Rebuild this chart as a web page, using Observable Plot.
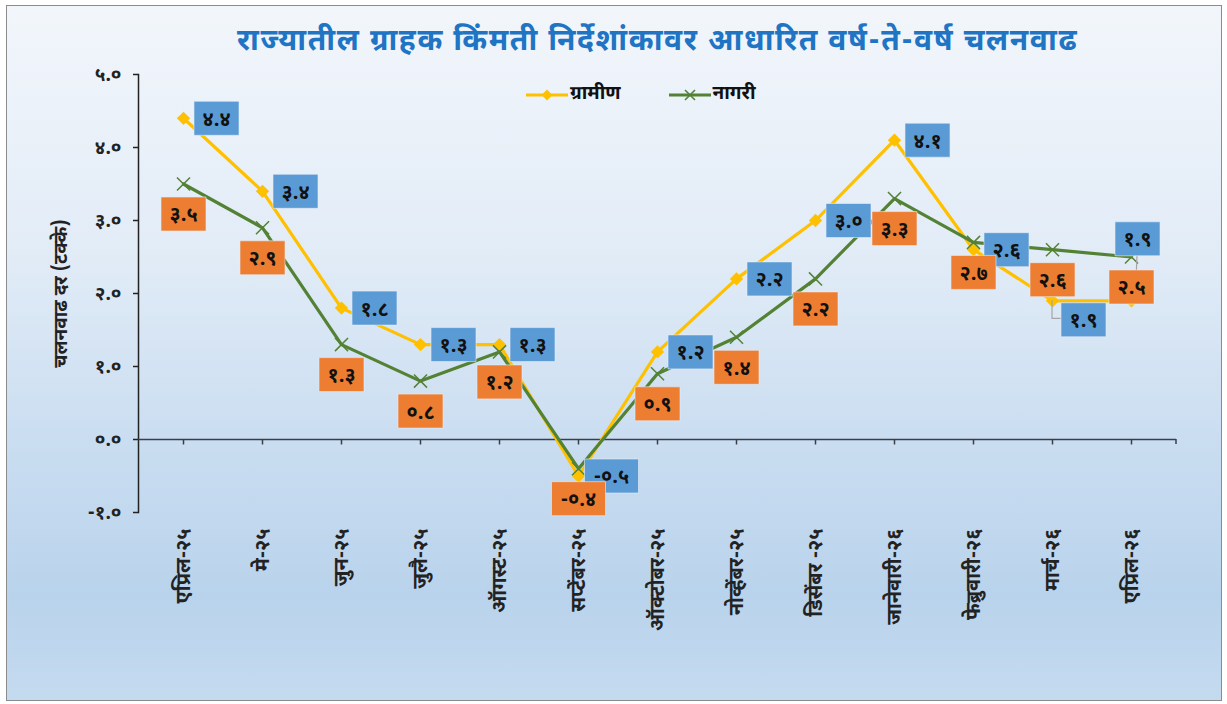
<!DOCTYPE html>
<html>
<head>
<meta charset="utf-8">
<script src="https://cdn.jsdelivr.net/npm/d3@7"></script>
<script src="https://cdn.jsdelivr.net/npm/@observablehq/plot@0.6"></script>
<style>
  body { margin: 0; background: #ffffff; }
  #wrap { position: relative; width: 1227px; height: 704px; overflow: hidden; font-family: "Noto Sans Devanagari", "Lohit Devanagari", "Mangal", "Noto Sans", sans-serif; }
  #bg { position: absolute; left: 6px; top: 5px; width: 1214px; height: 694px; border: 1.5px solid #8c8c8c;
        background: linear-gradient(to bottom, #f2f6fb 0%, #e2ecf7 35%, #c8dcf0 65%, #b9d3ec 85%, #c4daef 100%); }
  #title { position: absolute; left: 0; width: 1227px; top: 23px; text-align: center; padding-left: 88px; box-sizing: border-box;
           font-size: 30px; font-weight: bold; color: #1f74c4; letter-spacing: 1.6px; line-height: 40px; }
  #legend { position: absolute; top: 82px; left: 524px; font-size: 19px; font-weight: bold; color: #111; display: flex; align-items: center; }
  #legend .item { display: flex; align-items: center; margin-right: 46px; }
  #chart { position: absolute; left: 0; top: 60px; }
</style>
</head>
<body>
<div id="wrap">
  <div id="bg"></div>
  <div id="title"></div>
  <div id="legend"></div>
  <div id="chart"></div>
</div>
<script>
const titleText = "राज्यातील ग्राहक किंमती निर्देशांकावर आधारित वर्ष-ते-वर्ष चलनवाढ";
const yTitle = "चलनवाढ दर (टक्के)";
const seriesNames = ["ग्रामीण", "नागरी"];
const categories = ["एप्रिल-२५", "मे-२५", "जुन-२५", "जुलै-२५", "ऑगस्ट-२५", "सप्टेंबर-२५", "ऑक्टोबर-२५", "नोव्हेंबर-२५", "डिसेंबर -२५", "जानेवारी-२६", "फेब्रुवारी-२६", "मार्च-२६", "एप्रिल-२६"];
const rural = [4.4, 3.4, 1.8, 1.3, 1.3, -0.5, 1.2, 2.2, 3.0, 4.1, 2.6, 1.9, 1.9];
const urban = [3.5, 2.9, 1.3, 0.8, 1.2, -0.4, 0.9, 1.4, 2.2, 3.3, 2.7, 2.6, 2.5];
const yTicks = [-1, 0, 1, 2, 3, 4, 5];

const colRural = "#FFC000", colUrban = "#548235";
const boxRural = "#5B9BD5", boxUrban = "#ED7D31";
const FONT = '"Noto Sans Devanagari", "Lohit Devanagari", "Mangal", "Noto Sans", sans-serif';

const devDigits = "०१२३४५६७८९";
const toDev = (v) => v.toFixed(1).replace(/[0-9]/g, c => devDigits[+c]);

const rows = categories.map((m, i) => ({i, month: m, rural: rural[i], urban: urban[i]}));

document.getElementById("title").textContent = titleText;

// legend
const leg = document.getElementById("legend");
leg.innerHTML = `
 <div class="item"><svg width="46" height="14"><line x1="2" y1="7" x2="44" y2="7" stroke="${colRural}" stroke-width="3"/><path d="M23,1.5 L28.5,7 L23,12.5 L17.5,7Z" fill="${colRural}"/></svg><span>${seriesNames[0]}</span></div>
 <div class="item"><svg width="46" height="14"><line x1="2" y1="7" x2="44" y2="7" stroke="${colUrban}" stroke-width="3"/><path d="M18,2 L28,12 M28,2 L18,12" stroke="${colUrban}" stroke-width="1.6"/></svg><span>${seriesNames[1]}</span></div>`;

const box = (w, h) => ({draw(ctx) { ctx.moveTo(-w/2, -h/2); ctx.lineTo(w/2, -h/2); ctx.lineTo(w/2, h/2); ctx.lineTo(-w/2, h/2); ctx.closePath(); }});
const vtick = {draw(ctx) { ctx.moveTo(0, 0); ctx.lineTo(0, 5); }};

function labels(key, fill, filter, dx, dy) {
  return [
    Plot.dot(rows, {filter: d => filter(d) && d[key] >= 0, x: "month", y: key, symbol: box(45, 34), fill, stroke: "#e6eef7", strokeWidth: 0.6, dx, dy}),
    Plot.dot(rows, {filter: d => filter(d) && d[key] < 0, x: "month", y: key, symbol: box(54, 34), fill, stroke: "#e6eef7", strokeWidth: 0.6, dx, dy}),
    Plot.text(rows, {filter, x: "month", y: key, text: d => toDev(d[key]), dx, dy: dy + 1, fill: "#111", fontSize: 20, fontWeight: "bold"})
  ];
}

const leaders = (index, scales, values, dims) => {
  const g = d3.create("svg:g").attr("fill", "none").attr("stroke", "#a6a6a6").attr("stroke-width", 1.2);
  const mx = scales.x(categories[11]), my = scales.y(rural[11]);
  g.append("path").attr("d", `M${mx},${my}V${my + 18}H${mx + 11}`);
  const ax = scales.x(categories[12]), ay = scales.y(rural[12]);
  g.append("path").attr("d", `M${ax + 6},${ay - 45}L${ax + 5},${ay - 20}`);
  // end tick of the category axis
  const y0 = scales.y(0);
  g.append("path").attr("d", `M${dims.width - dims.marginRight},${y0}V${y0 + 5}`).attr("stroke", "#3a3f47").attr("stroke-width", 1.5);
  return g.node();
};

const chart = Plot.plot({
  width: 1227,
  height: 610,
  marginTop: 14,
  marginBottom: 158,
  marginLeft: 138,
  marginRight: 51,
  style: {background: "transparent", fontFamily: FONT, overflow: "visible"},
  x: {type: "point", domain: categories, padding: 0.5},
  y: {domain: [-1, 5]},
  marks: [
    Plot.frame({anchor: "left", stroke: "#222", strokeWidth: 1.5}),
    Plot.axisY({ticks: yTicks, tickFormat: toDev, tickSize: 5, tickPadding: 12, fontSize: 19, fontWeight: "bold", fill: "#222", stroke: "#222", strokeWidth: 1.5, label: null}),
    Plot.axisX({anchor: "bottom", tickSize: 0, tickPadding: 16, tickRotate: -90, fontSize: 20, fontWeight: "bold", fill: "#222", label: null}),
    Plot.text([yTitle], {frameAnchor: "left", textAnchor: "middle", rotate: -90, dx: -78, text: d => d, fontSize: 19, fontWeight: "bold", fill: "#222"}),
    Plot.ruleY([0], {stroke: "#3a3f47", strokeWidth: 1.5}),
    Plot.dot(rows, {x: "month", y: () => 0, symbol: vtick, stroke: "#3a3f47", strokeWidth: 1.5}),
    Plot.line(rows, {x: "month", y: "rural", stroke: colRural, strokeWidth: 3.2}),
    Plot.dot(rows, {x: "month", y: "rural", symbol: "diamond2", fill: colRural, r: 6}),
    Plot.line(rows, {x: "month", y: "urban", stroke: colUrban, strokeWidth: 3.2}),
    Plot.dot(rows, {x: "month", y: "urban", symbol: "times", stroke: colUrban, strokeWidth: 1.5, r: 6}),
    leaders,
    ...labels("rural", boxRural, d => d.i <= 10, 33, 0),
    ...labels("rural", boxRural, d => d.i === 11, 31, 19),
    ...labels("rural", boxRural, d => d.i === 12, 6, -62),
    ...labels("urban", boxUrban, d => true, 0, 30)
  ]
});
document.getElementById("chart").appendChild(chart);
</script>
</body>
</html>
